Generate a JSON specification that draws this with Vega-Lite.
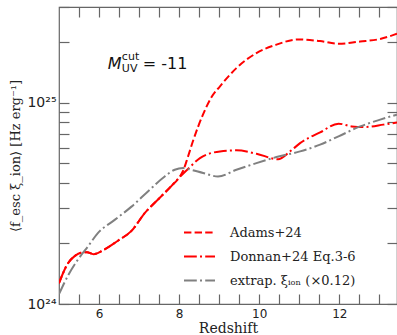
{
  "$schema": "https://vega.github.io/schema/vega-lite/v6.json",
  "autosize": "none",
  "width": 338,
  "height": 297,
  "padding": {"left": 59, "top": 7, "right": 0, "bottom": 31},
  "background": "white",
  "config": {
    "view": {"stroke": "#666666", "strokeWidth": 1.2},
    "axis": {"grid": false, "domain": false, "tickColor": "#666666", "tickWidth": 1.2, "labelColor": "#222222", "titleColor": "#222222", "labelFont": "DejaVu Sans", "labelFontSize": 12, "titleFont": "DejaVu Serif", "titleFontSize": 13, "titleFontWeight": "normal"}
  },
  "datasets": {
    "lines": [
      {"s": "Adams+24", "z": 5.0, "v": 1.27e24},
      {"s": "Adams+24", "z": 5.23, "v": 1.6e24},
      {"s": "Adams+24", "z": 5.39, "v": 1.73e24},
      {"s": "Adams+24", "z": 5.55, "v": 1.8e24},
      {"s": "Adams+24", "z": 5.7, "v": 1.81e24},
      {"s": "Adams+24", "z": 5.86, "v": 1.77e24},
      {"s": "Adams+24", "z": 6.14, "v": 1.87e24},
      {"s": "Adams+24", "z": 6.48, "v": 2.07e24},
      {"s": "Adams+24", "z": 6.81, "v": 2.31e24},
      {"s": "Adams+24", "z": 7.14, "v": 2.83e24},
      {"s": "Adams+24", "z": 7.48, "v": 3.32e24},
      {"s": "Adams+24", "z": 7.81, "v": 3.87e24},
      {"s": "Adams+24", "z": 8.0, "v": 4.25e24},
      {"s": "Adams+24", "z": 8.1, "v": 4.6e24},
      {"s": "Adams+24", "z": 8.22, "v": 5.4e24},
      {"s": "Adams+24", "z": 8.35, "v": 6.5e24},
      {"s": "Adams+24", "z": 8.6, "v": 8.8e24},
      {"s": "Adams+24", "z": 8.81, "v": 1.07e25},
      {"s": "Adams+24", "z": 9.02, "v": 1.21e25},
      {"s": "Adams+24", "z": 9.43, "v": 1.49e25},
      {"s": "Adams+24", "z": 9.93, "v": 1.77e25},
      {"s": "Adams+24", "z": 10.43, "v": 1.95e25},
      {"s": "Adams+24", "z": 10.98, "v": 2.07e25},
      {"s": "Adams+24", "z": 11.52, "v": 2.03e25},
      {"s": "Adams+24", "z": 11.98, "v": 1.97e25},
      {"s": "Adams+24", "z": 12.52, "v": 2.02e25},
      {"s": "Adams+24", "z": 13.02, "v": 2.08e25},
      {"s": "Adams+24", "z": 13.44, "v": 2.21e25},
      {"s": "Donnan+24 Eq.3-6", "z": 5.0, "v": 1.27e24},
      {"s": "Donnan+24 Eq.3-6", "z": 5.23, "v": 1.6e24},
      {"s": "Donnan+24 Eq.3-6", "z": 5.39, "v": 1.73e24},
      {"s": "Donnan+24 Eq.3-6", "z": 5.55, "v": 1.8e24},
      {"s": "Donnan+24 Eq.3-6", "z": 5.7, "v": 1.81e24},
      {"s": "Donnan+24 Eq.3-6", "z": 5.86, "v": 1.77e24},
      {"s": "Donnan+24 Eq.3-6", "z": 6.14, "v": 1.87e24},
      {"s": "Donnan+24 Eq.3-6", "z": 6.48, "v": 2.07e24},
      {"s": "Donnan+24 Eq.3-6", "z": 6.81, "v": 2.31e24},
      {"s": "Donnan+24 Eq.3-6", "z": 7.14, "v": 2.83e24},
      {"s": "Donnan+24 Eq.3-6", "z": 7.48, "v": 3.32e24},
      {"s": "Donnan+24 Eq.3-6", "z": 7.81, "v": 3.87e24},
      {"s": "Donnan+24 Eq.3-6", "z": 8.0, "v": 4.25e24},
      {"s": "Donnan+24 Eq.3-6", "z": 8.27, "v": 4.8e24},
      {"s": "Donnan+24 Eq.3-6", "z": 8.52, "v": 5.32e24},
      {"s": "Donnan+24 Eq.3-6", "z": 9.02, "v": 5.74e24},
      {"s": "Donnan+24 Eq.3-6", "z": 9.43, "v": 5.81e24},
      {"s": "Donnan+24 Eq.3-6", "z": 9.93, "v": 5.59e24},
      {"s": "Donnan+24 Eq.3-6", "z": 10.47, "v": 5.25e24},
      {"s": "Donnan+24 Eq.3-6", "z": 10.77, "v": 5.74e24},
      {"s": "Donnan+24 Eq.3-6", "z": 11.02, "v": 6.31e24},
      {"s": "Donnan+24 Eq.3-6", "z": 11.52, "v": 7.14e24},
      {"s": "Donnan+24 Eq.3-6", "z": 11.98, "v": 7.89e24},
      {"s": "Donnan+24 Eq.3-6", "z": 12.31, "v": 7.64e24},
      {"s": "Donnan+24 Eq.3-6", "z": 12.64, "v": 7.59e24},
      {"s": "Donnan+24 Eq.3-6", "z": 13.1, "v": 7.8e24},
      {"s": "Donnan+24 Eq.3-6", "z": 13.44, "v": 8.0e24},
      {"s": "extrap. ξᵢₒₙ (×0.12)", "z": 5.0, "v": 1.12e24},
      {"s": "extrap. ξᵢₒₙ (×0.12)", "z": 5.23, "v": 1.39e24},
      {"s": "extrap. ξᵢₒₙ (×0.12)", "z": 5.47, "v": 1.66e24},
      {"s": "extrap. ξᵢₒₙ (×0.12)", "z": 5.72, "v": 1.93e24},
      {"s": "extrap. ξᵢₒₙ (×0.12)", "z": 5.97, "v": 2.25e24},
      {"s": "extrap. ξᵢₒₙ (×0.12)", "z": 6.39, "v": 2.62e24},
      {"s": "extrap. ξᵢₒₙ (×0.12)", "z": 6.81, "v": 3.05e24},
      {"s": "extrap. ξᵢₒₙ (×0.12)", "z": 7.22, "v": 3.63e24},
      {"s": "extrap. ξᵢₒₙ (×0.12)", "z": 7.64, "v": 4.31e24},
      {"s": "extrap. ξᵢₒₙ (×0.12)", "z": 7.89, "v": 4.65e24},
      {"s": "extrap. ξᵢₒₙ (×0.12)", "z": 8.1, "v": 4.74e24},
      {"s": "extrap. ξᵢₒₙ (×0.12)", "z": 8.3, "v": 4.65e24},
      {"s": "extrap. ξᵢₒₙ (×0.12)", "z": 8.6, "v": 4.48e24},
      {"s": "extrap. ξᵢₒₙ (×0.12)", "z": 8.97, "v": 4.31e24},
      {"s": "extrap. ξᵢₒₙ (×0.12)", "z": 9.43, "v": 4.65e24},
      {"s": "extrap. ξᵢₒₙ (×0.12)", "z": 9.93, "v": 5.02e24},
      {"s": "extrap. ξᵢₒₙ (×0.12)", "z": 10.43, "v": 5.38e24},
      {"s": "extrap. ξᵢₒₙ (×0.12)", "z": 11.02, "v": 5.74e24},
      {"s": "extrap. ξᵢₒₙ (×0.12)", "z": 11.52, "v": 6.2e24},
      {"s": "extrap. ξᵢₒₙ (×0.12)", "z": 11.98, "v": 6.82e24},
      {"s": "extrap. ξᵢₒₙ (×0.12)", "z": 12.52, "v": 7.64e24},
      {"s": "extrap. ξᵢₒₙ (×0.12)", "z": 13.02, "v": 8.26e24},
      {"s": "extrap. ξᵢₒₙ (×0.12)", "z": 13.44, "v": 8.75e24}
    ],
    "ann": [{"z": 6.22, "v": 1.48e25}]
  },
  "resolve": {"axis": {"x": "independent", "y": "independent"}},
  "layer": [
    {
      "data": {"name": "lines"},
      "mark": {"type": "line", "strokeWidth": 2, "interpolate": "monotone", "clip": true},
      "encoding": {
        "x": {"field": "z", "type": "quantitative", "scale": {"domain": [5, 13.44], "nice": false, "zero": false},
          "axis": {"orient": "bottom", "values": [5.5, 6, 6.5, 7, 7.5, 8, 8.5, 9, 9.5, 10, 10.5, 11, 11.5, 12, 12.5, 13], "labelExpr": "datum.value % 2 == 0 ? '' + datum.value : ''", "labelOverlap": false, "tickSize": -10, "labelPadding": 14, "title": "Redshift", "titleFontSize": 14, "titleY": 28, "titleBaseline": "alphabetic"}},
        "y": {"field": "v", "type": "quantitative", "scale": {"type": "log", "domain": [1e24, 3e25], "nice": false},
          "axis": {"orient": "left", "values": [1e24, 2e24, 3e24, 4e24, 5e24, 6e24, 7e24, 8e24, 9e24, 1e25, 2e25, 3e25], "labelExpr": "datum.value == 1e24 ? '10²⁴' : (datum.value == 1e25 ? '10²⁵' : '')", "labelFont": "DejaVu Sans", "labelFontSize": 14, "labelOverlap": false, "tickSize": -10, "labelPadding": 13, "title": "⟨f_esc ξ_ion⟩ [Hz erg⁻¹]", "titleX": -44, "titleBaseline": "middle"}},
        "color": {"field": "s", "type": "nominal", "scale": {"domain": ["Adams+24", "Donnan+24 Eq.3-6", "extrap. ξᵢₒₙ (×0.12)"], "range": ["#ff0000", "#ff0000", "#808080"]},
          "legend": {"orient": "none", "legendX": 124, "legendY": 209, "title": null, "symbolType": "stroke", "symbolSize": 961, "symbolStrokeWidth": 2, "labelFont": "DejaVu Serif", "labelFontSize": 13, "labelColor": "#222222", "labelOffset": 14, "rowPadding": -7}},
        "strokeDash": {"field": "s", "type": "nominal", "scale": {"domain": ["Adams+24", "Donnan+24 Eq.3-6", "extrap. ξᵢₒₙ (×0.12)"], "range": [[7.4, 3.2], [12.8, 3.2, 2, 3.2], [12.8, 3.2, 2, 3.2]]}, "legend": null}
      }
    },
    {
      "data": {"name": "ann"},
      "mark": {"type": "text", "text": "M", "font": "DejaVu Sans", "fontStyle": "italic", "fontSize": 16, "align": "left", "baseline": "alphabetic", "color": "#111111"},
      "encoding": {
        "x": {"field": "z", "type": "quantitative", "axis": {"orient": "top", "values": [5.5, 6, 6.5, 7, 7.5, 8, 8.5, 9, 9.5, 10, 10.5, 11, 11.5, 12, 12.5, 13], "labels": false, "tickSize": -10, "title": null}},
        "y": {"field": "v", "type": "quantitative", "axis": {"orient": "right", "values": [1e24, 2e24, 3e24, 4e24, 5e24, 6e24, 7e24, 8e24, 9e24, 1e25, 2e25, 3e25], "labels": false, "tickSize": -10, "title": null}}
      }
    },
    {
      "data": {"name": "ann"},
      "mark": {"type": "text", "text": "cut", "font": "DejaVu Sans", "fontSize": 11, "align": "left", "baseline": "alphabetic", "dx": 14, "dy": -9, "color": "#111111"},
      "encoding": {
        "x": {"field": "z", "type": "quantitative", "axis": null},
        "y": {"field": "v", "type": "quantitative", "axis": null}
      }
    },
    {
      "data": {"name": "ann"},
      "mark": {"type": "text", "text": "UV", "font": "DejaVu Sans", "fontSize": 11, "align": "left", "baseline": "alphabetic", "dx": 14, "dy": 3, "color": "#111111"},
      "encoding": {
        "x": {"field": "z", "type": "quantitative", "axis": null},
        "y": {"field": "v", "type": "quantitative", "axis": null}
      }
    },
    {
      "data": {"name": "ann"},
      "mark": {"type": "text", "text": "= -11", "font": "DejaVu Sans", "fontSize": 16, "align": "left", "baseline": "alphabetic", "dx": 35, "color": "#111111"},
      "encoding": {
        "x": {"field": "z", "type": "quantitative", "axis": null},
        "y": {"field": "v", "type": "quantitative", "axis": null}
      }
    }
  ]
}
